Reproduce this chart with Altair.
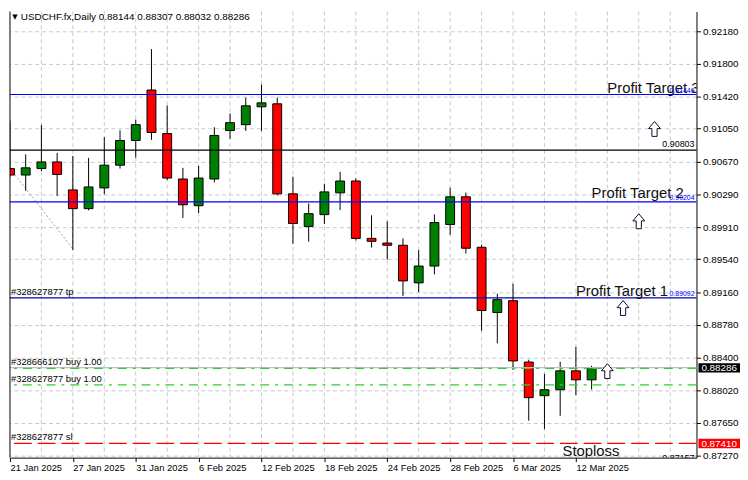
import altair as alt
import pandas as pd

F = "Liberation Sans"

# ---------------- data ----------------
dates = ["21 Jan 2025", "22 Jan 2025", "23 Jan 2025", "24 Jan 2025", "27 Jan 2025",
         "28 Jan 2025", "29 Jan 2025", "30 Jan 2025", "31 Jan 2025", "3 Feb 2025",
         "4 Feb 2025", "5 Feb 2025", "6 Feb 2025", "7 Feb 2025", "10 Feb 2025",
         "11 Feb 2025", "12 Feb 2025", "13 Feb 2025", "14 Feb 2025", "17 Feb 2025",
         "18 Feb 2025", "19 Feb 2025", "20 Feb 2025", "21 Feb 2025", "24 Feb 2025",
         "25 Feb 2025", "26 Feb 2025", "27 Feb 2025", "28 Feb 2025", "3 Mar 2025",
         "4 Mar 2025", "5 Mar 2025", "6 Mar 2025", "7 Mar 2025", "10 Mar 2025",
         "11 Mar 2025", "12 Mar 2025", "13 Mar 2025"]
opens = [0.90589, 0.90514, 0.90589, 0.90666, 0.90342, 0.90125, 0.90365, 0.90628, 0.90914, 0.91498,
         0.90994, 0.90468, 0.90159, 0.90468, 0.91029, 0.91097, 0.91303, 0.91338, 0.90296, 0.89918,
         0.90056, 0.90308, 0.90445, 0.89781, 0.89727, 0.89701, 0.89266, 0.89461, 0.89941, 0.90262,
         0.89678, 0.88923, 0.89060, 0.88350, 0.87961, 0.88030, 0.88248, 0.88144]
highs = [0.91143, 0.90754, 0.91093, 0.90769, 0.90735, 0.90712, 0.90952, 0.91032, 0.91155, 0.91971,
         0.91318, 0.90597, 0.90620, 0.91067, 0.91227, 0.91410, 0.91559, 0.91410, 0.90494, 0.90185,
         0.90414, 0.90551, 0.90475, 0.90048, 0.89979, 0.89781, 0.89647, 0.90059, 0.90368, 0.90311,
         0.89708, 0.89140, 0.89256, 0.88377, 0.88213, 0.88354, 0.88526, 0.88307]
lows = [0.90494, 0.90331, 0.90560, 0.90273, 0.89647, 0.90105, 0.90292, 0.90589, 0.90715, 0.90921,
        0.90456, 0.90017, 0.90074, 0.90429, 0.90933, 0.91024, 0.91024, 0.90277, 0.89719, 0.89742,
        0.89948, 0.90108, 0.89758, 0.89674, 0.89536, 0.89113, 0.89159, 0.89365, 0.89822, 0.89605,
        0.88712, 0.88566, 0.88259, 0.87671, 0.87576, 0.87728, 0.87968, 0.88032]
closes = [0.90514, 0.90597, 0.90666, 0.90521, 0.90125, 0.90376, 0.90628, 0.90914, 0.91097, 0.91006,
          0.90479, 0.90170, 0.90479, 0.90972, 0.91120, 0.91315, 0.91349, 0.90296, 0.89953, 0.90067,
          0.90319, 0.90445, 0.89781, 0.89747, 0.89701, 0.89289, 0.89461, 0.89964, 0.90262, 0.89667,
          0.88946, 0.89072, 0.88363, 0.87938, 0.88030, 0.88248, 0.88144, 0.88286]

ytick_values = [0.92180, 0.91800, 0.91420, 0.91050, 0.90670, 0.90290, 0.89910,
                0.89540, 0.89160, 0.88780, 0.88400, 0.88020, 0.87650, 0.87270]

line_prices = [0.91446, 0.90803, 0.90204, 0.89092, 0.88286, 0.88276, 0.88087, 0.87410]
line_colors = ["#0000ff", "#000000", "#0000ff", "#0000b4", "#c0c0c0", "#32cd32", "#32cd32", "#ff0000"]
line_styles = ["solid", "solid", "solid", "solid", "solid", "dashdot", "dashdot", "dash"]

big_labels = ["Profit Target 3", "Profit Target 2", "Profit Target 1", "Stoploss"]
big_label_idx = [38, 37, 36, 35.15]
big_label_price = [0.91459, 0.90246, 0.89113, 0.87267]

tag_texts = ["0.91446", "0.90803", "0.90204", "0.89092"]
tag_prices = [0.91446, 0.90803, 0.90204, 0.89092]
tag_colors = ["#0000ff", "#000000", "#0000ff", "#0000ff"]
tag_sizes = [7, 9, 7, 7]

order_labels = ["#328627877 tp", "#328666107 buy 1.00", "#328627877 buy 1.00", "#328627877 sl"]
order_prices = [0.89092, 0.88276, 0.88087, 0.87410]

arrow_idx = [41, 40, 39, 38]
arrow_prices = [0.91047, 0.89979, 0.88975, 0.88245]

trade_idx = [0, 4]
trade_prices = [0.90589, 0.89659]

box_texts = ["0.88286", "0.87410"]
box_prices = [0.88286, 0.87410]
box_colors = ["#000000", "#ff0000"]

corner_text = ["0.87157"]
corner_price = [0.87289]

title_text = "USDCHF.fx,Daily  %.5f %.5f %.5f %.5f" % (opens[-1], highs[-1], lows[-1], closes[-1])

# ---------------- layout ----------------
W, H = 694, 451
XMAX = 43.67
YMIN, YMAX = 0.87244, 0.92406

xs = alt.Scale(domain=[0, XMAX], nice=False, zero=False, padding=0)
ys = alt.Scale(domain=[YMIN, YMAX], nice=False, zero=False, padding=0)

label_expr = "[" + ",".join("'%s'" % d for d in dates) + "][datum.value]"
x_axis = alt.Axis(orient="bottom", values=list(range(0, 37, 4)), labelExpr=label_expr,
                  labelAlign="left", labelFontSize=9.5, labelFont=F, labelColor="black",
                  tickSize=4, tickColor="black", domainColor="black", grid=False,
                  title=None, labelPadding=1, labelOverlap=False)
y_axis = alt.Axis(orient="right", values=ytick_values, format=".5f", labelFontSize=10,
                  labelFont=F, labelColor="black", tickSize=4, tickColor="black",
                  domainColor="black", grid=True, gridColor="#c8c8c8", gridDash=[4, 3],
                  labelPadding=2, title=None)


def X(f):
    return alt.X(f, type="quantitative", scale=xs, axis=x_axis)


def Y(f):
    return alt.Y(f, type="quantitative", scale=ys, axis=y_axis)


candles = pd.DataFrame({"idx": list(range(len(dates))), "date": dates, "open": opens,
                        "high": highs, "low": lows, "close": closes})
lines_df = pd.DataFrame({"price": line_prices, "color": line_colors, "style": line_styles})
big_df = pd.DataFrame({"label": big_labels, "idx": big_label_idx, "price": big_label_price})
tag_df = pd.DataFrame({"label": tag_texts, "price": tag_prices, "color": tag_colors, "size": tag_sizes})
order_df = pd.DataFrame({"label": order_labels, "price": order_prices})
arrow_df = pd.DataFrame({"idx": arrow_idx, "price": arrow_prices})
trade_df = pd.DataFrame({"idx": trade_idx, "price": trade_prices})
box_df = pd.DataFrame({"label": box_texts, "price": box_prices, "color": box_colors})
corner_df = pd.DataFrame({"label": corner_text, "price": corner_price})
vgrid_df = pd.DataFrame({"idx": list(range(2, 44, 2))})
frame_df = pd.DataFrame({"idx": [0]})
title_df = pd.DataFrame({"label": [title_text], "mark": ["\u25bc"]})

vgrid = alt.Chart(vgrid_df).mark_rule(color="#c8c8c8", strokeDash=[4, 3], strokeWidth=1).encode(
    x=X("idx"))

trade = alt.Chart(trade_df).mark_line(color="#a0a0a0", strokeDash=[2, 2], strokeWidth=1).encode(
    x=X("idx"), y=Y("price"))

wicks = alt.Chart(candles).mark_rule(color="black", strokeWidth=1, clip=True).encode(
    x=X("idx"), y=Y("low"), y2="high")

bodies = alt.Chart(candles).mark_bar(width=9, stroke="black", strokeWidth=1, clip=True).encode(
    x=X("idx"), y=Y("open"), y2="close",
    fill=alt.condition("datum.close >= datum.open", alt.value("#008000"), alt.value("#ff0000")))

hlines = alt.Chart(lines_df).mark_rule(strokeWidth=1.2).encode(
    y=Y("price"),
    color=alt.Color("color:N", scale=None),
    strokeDash=alt.StrokeDash("style:N", scale=alt.Scale(domain=["solid", "dashdot", "dash"],
                                                         range=[[1, 0], [9, 6, 3, 6], [18, 6]]),
                              legend=None))

big_text = alt.Chart(big_df).mark_text(align="left", baseline="alphabetic", fontSize=15,
                                       font=F, color="#101010", clip=True).encode(
    x=X("idx"), y=Y("price"), text="label:N")

tags = alt.Chart(tag_df).mark_text(align="right", baseline="bottom", font=F, dy=-1, clip=True).encode(
    x=alt.value(692), y=Y("price"), text="label:N",
    color=alt.Color("color:N", scale=None), size=alt.Size("size:Q", scale=None))

orders = alt.Chart(order_df).mark_text(align="left", baseline="bottom", font=F, fontSize=9.5,
                                       color="black", dy=-1).encode(
    x=alt.value(1), y=Y("price"), text="label:N")

arrow_path = "M0,-1L0.8,-0.05L0.35,-0.05L0.35,1L-0.35,1L-0.35,-0.05L-0.8,-0.05Z"
arrows = alt.Chart(arrow_df).mark_point(shape=arrow_path, size=225, filled=True, fill="white",
                                        stroke="#200030", strokeWidth=1, opacity=1).encode(
    x=X("idx"), y=Y("price"))

corner = alt.Chart(corner_df).mark_text(align="right", baseline="top", font=F, fontSize=9,
                                        color="black", clip=True).encode(
    x=alt.value(692), y=Y("price"), text="label:N")

boxes = alt.Chart(box_df).mark_rect(yOffset=-4.5, y2Offset=5).encode(
    x=alt.value(696), x2=alt.value(738), y=Y("price"), y2="price",
    color=alt.Color("color:N", scale=None))

box_text = alt.Chart(box_df).mark_text(align="center", baseline="middle", font=F, fontSize=10,
                                       color="white", dy=0.5).encode(
    x=alt.value(717), y=Y("price"), text="label:N")

frame = alt.Chart(frame_df).mark_rule(color="black", strokeWidth=1).encode(x=X("idx"))

tri = alt.Chart(title_df).mark_text(align="center", baseline="middle", font="DejaVu Sans",
                                    fontSize=7, color="black").encode(
    x=alt.value(5), y=alt.value(6), text="mark:N")

title = alt.Chart(title_df).mark_text(align="left", baseline="middle", font=F, fontSize=10,
                                      color="black").encode(
    x=alt.value(11), y=alt.value(6), text="label:N")

chart = alt.layer(
    vgrid, trade, wicks, bodies, hlines, big_text, tags, orders, arrows, corner,
    boxes, box_text, frame, tri, title
).properties(
    width=W, height=H, padding=0, background="white"
).configure_view(stroke=None)

chart.save("out.html", embed_options={"renderer": "svg", "actions": False})
